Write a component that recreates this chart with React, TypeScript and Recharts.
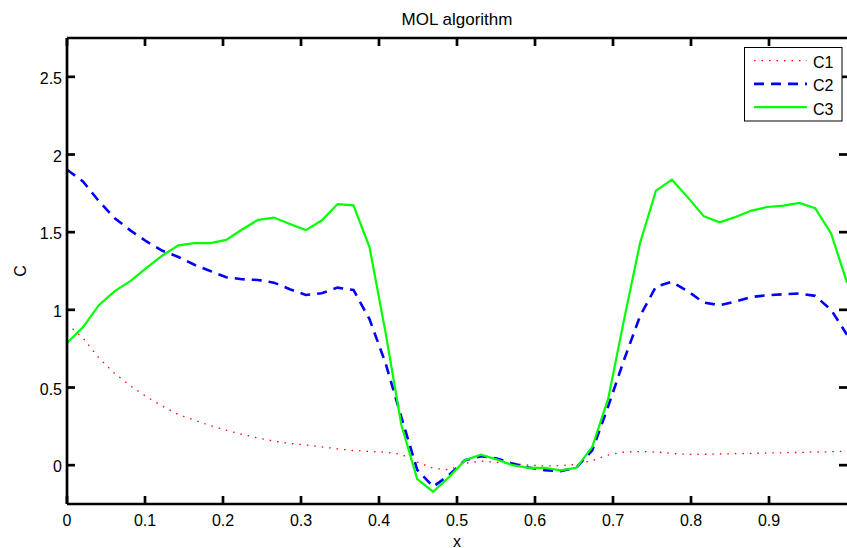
import React from "react";
import { LineChart, Line, XAxis, YAxis, Legend, Label } from "recharts";

// ---- data ----
const xGrid = [
  0, 0.0204, 0.0408, 0.0612, 0.0816, 0.102, 0.1224, 0.1429, 0.1633, 0.1837,
  0.2041, 0.2245, 0.2449, 0.2653, 0.2857, 0.3061, 0.3265, 0.3469, 0.3673, 0.3878,
  0.4082, 0.4286, 0.449, 0.4694, 0.4898, 0.5102, 0.5306, 0.551, 0.5714, 0.5918,
  0.6122, 0.6327, 0.6531, 0.6735, 0.6939, 0.7143, 0.7347, 0.7551, 0.7755, 0.7959,
  0.8163, 0.8367, 0.8571, 0.8776, 0.898, 0.9184, 0.9388, 0.9592, 0.9796, 1.0,
];

const c1Values = [
  0.91, 0.82, 0.69, 0.59, 0.51, 0.44, 0.38, 0.325, 0.29, 0.255,
  0.225, 0.198, 0.175, 0.155, 0.14, 0.13, 0.118, 0.105, 0.094, 0.088,
  0.083, 0.07, 0.02, -0.02, -0.03, 0.012, 0.026, 0.018, 0.01, 0.0,
  -0.005, -0.003, 0.005, 0.03, 0.065, 0.085, 0.088, 0.085, 0.075, 0.07,
  0.07, 0.072, 0.074, 0.076, 0.078, 0.08, 0.082, 0.084, 0.087, 0.09,
];

const c2Values = [
  1.902, 1.827, 1.7, 1.59, 1.51, 1.44, 1.38, 1.34, 1.29, 1.25,
  1.21, 1.197, 1.192, 1.175, 1.133, 1.096, 1.107, 1.143, 1.128, 0.94,
  0.66, 0.31, -0.03, -0.139, -0.064, 0.032, 0.058, 0.043, 0.01, -0.015,
  -0.032, -0.038, -0.015, 0.096, 0.38, 0.68, 0.96, 1.15, 1.18, 1.12,
  1.047, 1.03, 1.053, 1.083, 1.094, 1.1, 1.105, 1.09, 1.0, 0.84,
];

const c3Values = [
  0.786, 0.887, 1.03, 1.12, 1.186, 1.27, 1.35, 1.415, 1.43, 1.43,
  1.45, 1.517, 1.579, 1.594, 1.553, 1.513, 1.575, 1.681, 1.673, 1.404,
  0.86, 0.26, -0.09, -0.171, -0.076, 0.032, 0.068, 0.036, 0.0, -0.017,
  -0.017, -0.034, -0.017, 0.118, 0.43, 0.94, 1.43, 1.767, 1.838, 1.724,
  1.603, 1.564, 1.598, 1.639, 1.662, 1.671, 1.688, 1.654, 1.492, 1.175,
];

const xTicks = [0, 0.1, 0.2, 0.3, 0.4, 0.5, 0.6, 0.7, 0.8, 0.9];
const yTicks = [0, 0.5, 1, 1.5, 2, 2.5];
const seriesNames = ["C1", "C2", "C3"];

const data = xGrid.map((x, i) => ({
  x,
  C1: c1Values[i],
  C2: c2Values[i],
  C3: c3Values[i],
}));

// ---- layout / style ----
const W = 847;
const H = 548;
const RIGHT_PAD = 10; // hidden right axis strip, clipped by the wrapper
const BOX = { left: 67, top: 38, right: 847, bottom: 504 };
const TICK_LEN = 8;
const AXW = 2.7;
const FONT = "'Liberation Sans', Arial, Helvetica, sans-serif";
const FS = 16;

const fmt = (v: number) => String(Math.round(v * 10) / 10);

const BottomTick = (p: any) => (
  <g>
    <line x1={p.x} x2={p.x} y1={BOX.bottom} y2={BOX.bottom - TICK_LEN} stroke="#000" strokeWidth={AXW} />
    <text x={p.x} y={BOX.bottom + 21.5} textAnchor="middle" fontSize={FS} fontFamily={FONT} fill="#000">
      {fmt(p.payload.value)}
    </text>
  </g>
);

const TopTick = (p: any) => (
  <line x1={p.x} x2={p.x} y1={BOX.top} y2={BOX.top + TICK_LEN} stroke="#000" strokeWidth={AXW} />
);

const LeftTick = (p: any) => (
  <g>
    <line x1={BOX.left} x2={BOX.left + TICK_LEN} y1={p.y} y2={p.y} stroke="#000" strokeWidth={AXW} />
    <text x={BOX.left - 5} y={p.y + 7} textAnchor="end" fontSize={FS} fontFamily={FONT} fill="#000">
      {fmt(p.payload.value)}
    </text>
  </g>
);

const RightTick = (p: any) => (
  <line x1={BOX.right} x2={BOX.right - TICK_LEN} y1={p.y} y2={p.y} stroke="#000" strokeWidth={AXW} />
);

const TitleLabel = () => (
  <text x={(BOX.left + BOX.right) / 2} y={25} textAnchor="middle" fontSize={17} fontFamily={FONT} fill="#000">
    MOL algorithm
  </text>
);

const XLabel = () => (
  <text x={(BOX.left + BOX.right) / 2} y={546.5} textAnchor="middle" fontSize={FS} fontFamily={FONT} fill="#000">
    x
  </text>
);

const YLabel = () => {
  const cx = 26;
  const cy = (BOX.top + BOX.bottom) / 2;
  return (
    <text x={cx} y={cy} textAnchor="middle" fontSize={FS} fontFamily={FONT} fill="#000" transform={`rotate(-90 ${cx} ${cy})`}>
      C
    </text>
  );
};

const lineStyles: Record<string, { stroke: string; width: number; dash?: string }> = {
  C1: { stroke: "#ff0000", width: 1.3, dash: "1.5 6" },
  C2: { stroke: "#0000ff", width: 2.6, dash: "10 7" },
  C3: { stroke: "#00ff00", width: 2.2 },
};

const LegendBox = () => (
  <svg width={99} height={75} style={{ display: "block" }}>
    <rect x={0.5} y={0.5} width={97.5} height={73.5} fill="#fff" stroke="#000" strokeWidth={1} />
    {seriesNames.map((name, i) => {
      const ly = 13.7 + i * 23.2;
      const st = lineStyles[name];
      return (
        <g key={name}>
          <line x1={10} x2={63} y1={ly} y2={ly} stroke={st.stroke} strokeWidth={st.width} strokeDasharray={st.dash} />
          <text x={69} y={ly + 7.5} fontSize={FS} fontFamily={FONT} fill="#000">
            {name}
          </text>
        </g>
      );
    })}
  </svg>
);

export default function App() {
  return (
    <div style={{ position: "absolute", left: 0, top: 0, width: W, height: H, overflow: "hidden", background: "#fff" }}>
      <LineChart
        width={W + RIGHT_PAD}
        height={H}
        data={data}
        margin={{ top: 0, right: 0, bottom: 0, left: 0 }}
      >
        <XAxis
          xAxisId="bottom"
          orientation="bottom"
          dataKey="x"
          type="number"
          domain={[0, 1]}
          allowDataOverflow
          ticks={xTicks}
          interval={0}
          height={H - BOX.bottom}
          axisLine={{ stroke: "#000", strokeWidth: AXW }}
          tickLine={false}
          tick={(p: any) => <BottomTick {...p} />}
        >
          <Label content={<XLabel />} />
        </XAxis>
        <XAxis
          xAxisId="top"
          orientation="top"
          dataKey="x"
          type="number"
          domain={[0, 1]}
          allowDataOverflow
          ticks={xTicks}
          interval={0}
          height={BOX.top}
          axisLine={{ stroke: "#000", strokeWidth: AXW }}
          tickLine={false}
          tick={(p: any) => <TopTick {...p} />}
        >
          <Label content={<TitleLabel />} />
        </XAxis>
        <YAxis
          yAxisId="left"
          type="number"
          domain={[-0.25, 2.75]}
          allowDataOverflow
          ticks={yTicks}
          interval={0}
          width={BOX.left}
          axisLine={{ stroke: "#000", strokeWidth: AXW }}
          tickLine={false}
          tick={(p: any) => <LeftTick {...p} />}
        >
          <Label content={<YLabel />} />
        </YAxis>
        <YAxis
          yAxisId="right"
          orientation="right"
          type="number"
          domain={[-0.25, 2.75]}
          allowDataOverflow
          ticks={yTicks}
          interval={0}
          width={RIGHT_PAD}
          axisLine={false}
          tickLine={false}
          tick={(p: any) => <RightTick {...p} />}
        />
        <Legend
          layout="horizontal"
          verticalAlign="middle"
          align="center"
          wrapperStyle={{ position: "absolute", left: 744, top: 47, width: 99, height: 75 }}
          content={() => <LegendBox />}
        />
        {seriesNames.map((name) => (
          <Line
            key={name}
            xAxisId="bottom"
            yAxisId="left"
            type="linear"
            dataKey={name}
            stroke={lineStyles[name].stroke}
            strokeWidth={lineStyles[name].width}
            strokeDasharray={lineStyles[name].dash}
            dot={false}
            activeDot={false}
            isAnimationActive={false}
          />
        ))}
      </LineChart>
    </div>
  );
}
